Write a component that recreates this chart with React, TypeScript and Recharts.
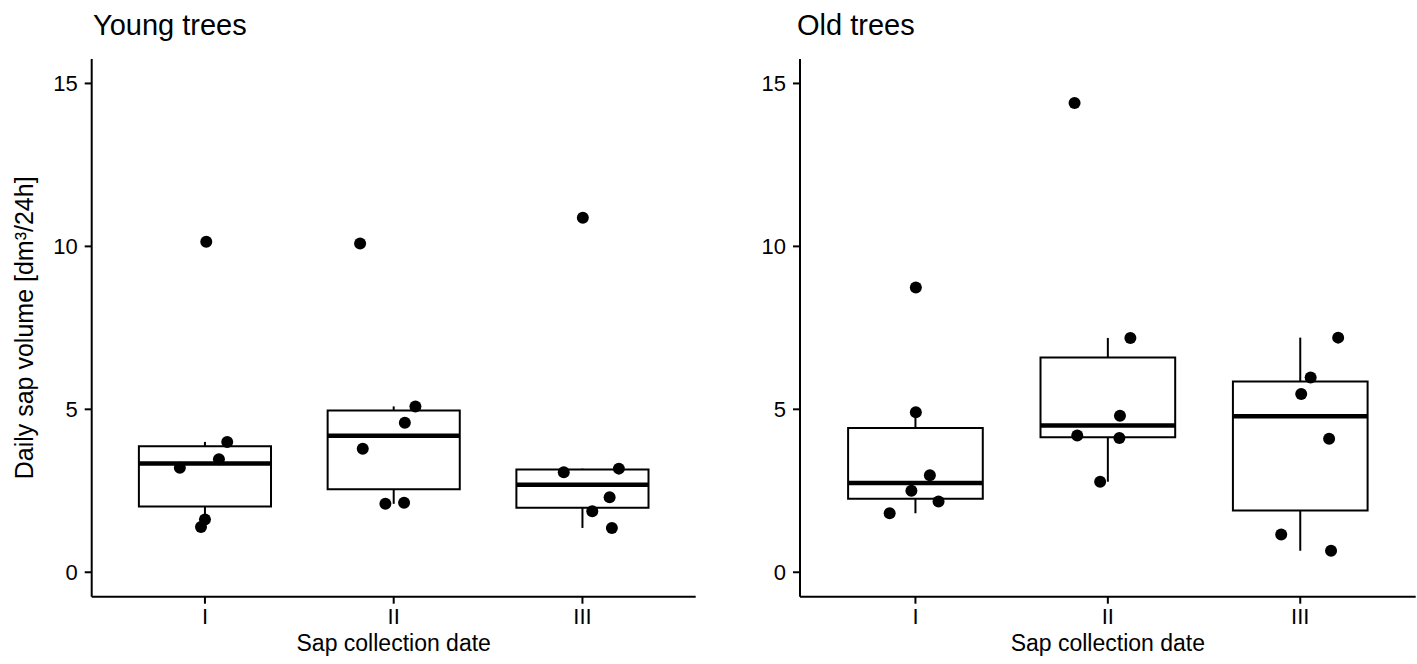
import React from 'react';
import { ScatterChart, Scatter, XAxis, YAxis, ReferenceArea, ReferenceLine } from 'recharts';

const categories = ['I', 'II', 'III'];
const yTicks = [0, 5, 10, 15];

// daily sap volume per tree
const youngI = [10.14, 4.0, 3.47, 3.21, 1.62, 1.39];
const youngII = [10.09, 5.09, 4.59, 3.79, 2.13, 2.1];
const youngIII = [10.88, 3.18, 3.07, 2.3, 1.87, 1.36];
const oldI = [8.74, 4.91, 2.98, 2.5, 2.17, 1.81];
const oldII = [14.4, 7.19, 4.8, 4.2, 4.12, 2.78];
const oldIII = [7.2, 5.98, 5.47, 4.1, 1.16, 0.66];

// horizontal jitter of each point (category units)
const youngJitterI = [0.007, 0.118, 0.074, -0.133, 0.0, -0.021];
const youngJitterII = [-0.178, 0.115, 0.059, -0.164, 0.055, -0.044];
const youngJitterIII = [0.002, 0.193, -0.099, 0.144, 0.052, 0.156];
const oldJitterI = [0.002, 0.002, 0.075, -0.021, 0.12, -0.134];
const oldJitterII = [-0.173, 0.117, 0.063, -0.159, 0.06, -0.04];
const oldJitterIII = [0.197, 0.054, 0.005, 0.15, -0.099, 0.16];

const FONT = '"Liberation Sans", Arial, sans-serif';

const quantile = (sorted: number[], p: number) => {
  const h = (sorted.length - 1) * p;
  const lo = Math.floor(h);
  const hi = Math.ceil(h);
  return sorted[lo] + (h - lo) * (sorted[hi] - sorted[lo]);
};

const boxStats = (values: number[]) => {
  const s = [...values].sort((a, b) => a - b);
  const q1 = quantile(s, 0.25);
  const med = quantile(s, 0.5);
  const q3 = quantile(s, 0.75);
  const iqr = q3 - q1;
  const lo = Math.min(...s.filter((v) => v >= q1 - 1.5 * iqr));
  const hi = Math.max(...s.filter((v) => v <= q3 + 1.5 * iqr));
  return { q1, med, q3, lo, hi };
};

const Dot = (p: any) => <circle cx={p.cx} cy={p.cy} r={6} fill="#000" />;

type PanelProps = {
  groups: number[][];
  jitters: number[][];
  width: number;
  axisWidth: number;
  rightMargin: number;
  yLabel?: string;
};

const Panel: React.FC<PanelProps> = ({ groups, jitters, width, axisWidth, rightMargin, yLabel }) => {
  const points = groups.flatMap((vals, i) =>
    vals.map((v, j) => ({ x: i + 1 + jitters[i][j], y: v }))
  );
  const half = 0.35;

  return (
    <ScatterChart width={width} height={664} margin={{ top: 59, right: rightMargin, left: 0, bottom: 0 }}>
      <XAxis
        type="number"
        dataKey="x"
        domain={[0.4, 3.6]}
        ticks={[1, 2, 3]}
        tickFormatter={(v: number) => categories[v - 1]}
        allowDataOverflow
        height={67.3}
        axisLine={{ stroke: '#000', strokeWidth: 2 }}
        tickLine={{ stroke: '#000', strokeWidth: 2 }}
        tickSize={7}
        tickMargin={5}
        tick={{ fill: '#000', fontSize: 22 }}
        label={{
          value: 'Sap collection date',
          position: 'insideBottom',
          offset: 13,
          style: { fill: '#000', fontSize: 23 },
        }}
      />
      <YAxis
        type="number"
        dataKey="y"
        domain={[-0.75, 15.75]}
        ticks={yTicks}
        interval={0}
        allowDataOverflow
        width={axisWidth}
        axisLine={{ stroke: '#000', strokeWidth: 2 }}
        tickLine={{ stroke: '#000', strokeWidth: 2 }}
        tickSize={7}
        tickMargin={7}
        tick={{ fill: '#000', fontSize: 22 }}
        label={
          yLabel
            ? {
                value: yLabel,
                angle: -90,
                position: 'insideLeft',
                offset: 24,
                style: { textAnchor: 'middle', fill: '#000', fontSize: 25 },
              }
            : undefined
        }
      />
      {groups.map((vals, i) => {
        const b = boxStats(vals);
        const x = i + 1;
        return (
          <React.Fragment key={`box-${i}`}>
            <ReferenceLine
              segment={[{ x, y: b.q3 }, { x, y: b.hi }]}
              stroke="#000"
              strokeWidth={2}
            />
            <ReferenceLine
              segment={[{ x, y: b.lo }, { x, y: b.q1 }]}
              stroke="#000"
              strokeWidth={2}
            />
            <ReferenceArea
              x1={x - half}
              x2={x + half}
              y1={b.q1}
              y2={b.q3}
              fill="#fff"
              fillOpacity={0}
              stroke="#000"
              strokeWidth={2}
              strokeOpacity={1}
            />
            <ReferenceLine
              segment={[{ x: x - half, y: b.med }, { x: x + half, y: b.med }]}
              stroke="#000"
              strokeWidth={4.5}
            />
          </React.Fragment>
        );
      })}
      <Scatter data={points} fill="#000" shape={Dot} isAnimationActive={false} />
    </ScatterChart>
  );
};

const titleStyle: React.CSSProperties = {
  position: 'absolute',
  top: 11,
  fontSize: 29,
  lineHeight: '29px',
  color: '#000',
  whiteSpace: 'nowrap',
};

export default function App() {
  return (
    <div
      style={{
        position: 'absolute',
        left: 0,
        top: 0,
        width: 1417,
        height: 664,
        background: '#fff',
        fontFamily: FONT,
      }}
    >
      <div style={{ ...titleStyle, left: 93 }}>Young trees</div>
      <div style={{ ...titleStyle, left: 797 }}>Old trees</div>
      <div style={{ position: 'absolute', left: 0, top: 0 }}>
        <Panel
          groups={[youngI, youngII, youngIII]}
          jitters={[youngJitterI, youngJitterII, youngJitterIII]}
          width={705}
          axisWidth={91.7}
          rightMargin={9.3}
          yLabel="Daily sap volume [dm³/24h]"
        />
      </div>
      <div style={{ position: 'absolute', left: 705, top: 0 }}>
        <Panel
          groups={[oldI, oldII, oldIII]}
          jitters={[oldJitterI, oldJitterII, oldJitterIII]}
          width={712}
          axisWidth={95}
          rightMargin={1.3}
        />
      </div>
    </div>
  );
}
